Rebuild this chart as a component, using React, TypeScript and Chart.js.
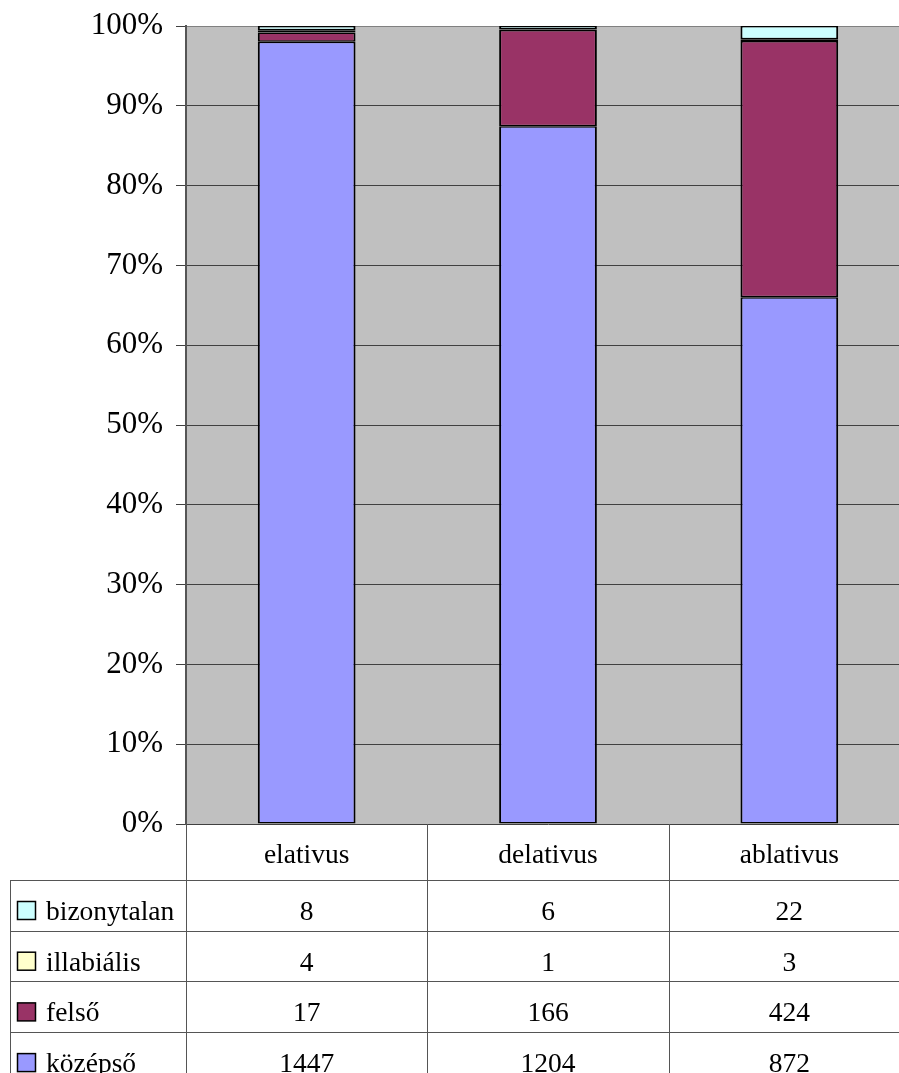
import React, { useEffect, useRef } from "react";
import { Chart, registerables } from "chart.js";

Chart.register(...registerables);

const categories = ["elativus", "delativus", "ablativus"];
const seriesNames = ["középső", "felső", "illabiális", "bizonytalan"];
const kozepso = [1447, 1204, 872];
const felso = [17, 166, 424];
const illabialis = [4, 1, 3];
const bizonytalan = [8, 6, 22];
const seriesColors = ["#9999FF", "#993366", "#FFFFCC", "#CCFFFF"];
const yTicks = [0, 10, 20, 30, 40, 50, 60, 70, 80, 90, 100];

const allSeries = [kozepso, felso, illabialis, bizonytalan];
const totals = categories.map((_, i) => allSeries.reduce((s, a) => s + a[i], 0));
const pct = (arr: number[]) => arr.map((v, i) => (v / totals[i]) * 100);

const SERIF = "'Liberation Serif', 'Times New Roman', serif";

const tablePlugin = {
  id: "dataTable",
  beforeDraw(chart: any) {
    const { ctx, chartArea } = chart;
    ctx.save();
    ctx.fillStyle = "#C0C0C0";
    ctx.fillRect(chartArea.left, chartArea.top, chartArea.right - chartArea.left, chartArea.bottom - chartArea.top);
    ctx.restore();
  },
  afterDraw(chart: any) {
    const { ctx, chartArea } = chart;
    const xs = chart.scales.x;
    const n = categories.length;
    const colW = (chartArea.right - chartArea.left) / n;
    const top = chartArea.bottom;
    const headerBottom = top + 56;
    const rowH = 50.7;
    const legendLeft = 10;
    const rows = [3, 2, 1, 0]; // display order: bizonytalan, illabiális, felső, középső
    ctx.save();
    ctx.strokeStyle = "#555555";
    ctx.lineWidth = 1;
    const vline = (x: number, y1: number, y2: number) => {
      ctx.beginPath();
      ctx.moveTo(Math.round(x) + 0.5, y1);
      ctx.lineTo(Math.round(x) + 0.5, y2);
      ctx.stroke();
    };
    const hline = (y: number, x1: number, x2: number) => {
      ctx.beginPath();
      ctx.moveTo(x1, Math.round(y) + 0.5);
      ctx.lineTo(x2, Math.round(y) + 0.5);
      ctx.stroke();
    };
    const bottomY = chart.height + 20;
    for (let i = 0; i < n; i++) {
      const cx = xs.getPixelForValue(i);
      vline(cx - colW / 2, top, bottomY);
    }
    vline(legendLeft, headerBottom, bottomY);
    hline(headerBottom, legendLeft, chart.width);
    for (let r = 1; r <= rows.length; r++) {
      hline(headerBottom + r * rowH, legendLeft, chart.width);
    }
    ctx.fillStyle = "#000000";
    ctx.font = `27.5px ${SERIF}`;
    ctx.textAlign = "center";
    ctx.textBaseline = "alphabetic";
    for (let i = 0; i < n; i++) {
      const cx = xs.getPixelForValue(i);
      ctx.fillText(categories[i], cx, top + 39);
    }
    rows.forEach((si, r) => {
      const rowTop = headerBottom + r * rowH;
      ctx.fillStyle = seriesColors[si];
      ctx.fillRect(17.5, rowTop + 21.5, 18, 18);
      ctx.strokeStyle = "#000000";
      ctx.lineWidth = 1.5;
      ctx.strokeRect(17.5, rowTop + 21.5, 18, 18);
      ctx.fillStyle = "#000000";
      ctx.textAlign = "left";
      ctx.fillText(seriesNames[si], 46, rowTop + 40);
      ctx.textAlign = "center";
      for (let i = 0; i < n; i++) {
        const cx = xs.getPixelForValue(i);
        ctx.fillText(String(allSeries[si][i]), cx, rowTop + 40);
      }
    });
    ctx.restore();
  },
};

export default function App() {
  const ref = useRef<HTMLCanvasElement | null>(null);
  useEffect(() => {
    if (!ref.current) return;
    const chart = new Chart(ref.current, {
      type: "bar",
      data: {
        labels: categories,
        datasets: allSeries.map((arr, si) => ({
          label: seriesNames[si],
          data: pct(arr),
          backgroundColor: seriesColors[si],
          borderColor: "#000000",
          borderWidth: { top: 1.5, bottom: 1.5, left: 2, right: 2 },
          borderSkipped: false,
          categoryPercentage: 1,
          barPercentage: 0.405,
        })),
      },
      options: {
        animation: false,
        responsive: false,
        devicePixelRatio: 1,
        layout: { padding: { top: 26, bottom: 249, left: 0, right: 0 } },
        plugins: { legend: { display: false }, tooltip: { enabled: false } },
        scales: {
          x: { stacked: true, display: false },
          y: {
            stacked: true,
            min: 0,
            max: 100,
            afterFit: (s: any) => {
              s.width = 186;
              s.paddingTop = 0;
              s.paddingBottom = 0;
            },
            afterBuildTicks: (s: any) => {
              s.ticks = yTicks.map((v) => ({ value: v }));
            },
            ticks: {
              stepSize: 10,
              padding: 13,
              color: "#000000",
              font: { family: SERIF, size: 31 },
              callback: (v: any) => `${v}%`,
            },
            grid: {
              color: (c: any) => (c.tick && c.tick.value === 100 ? "#808080" : "#404040"),
              tickColor: "#404040",
              tickLength: 10,
              lineWidth: 1,
            },
            border: { display: true, color: "#555555", width: 2 },
          },
        },
      },
      plugins: [tablePlugin],
    });
    return () => chart.destroy();
  }, []);
  return (
    <div style={{ position: "absolute", left: 0, top: 0, width: 899, height: 1073, overflow: "hidden", background: "#ffffff" }}>
      <canvas ref={ref} width={910} height={1073} style={{ width: 910, height: 1073, display: "block" }} />
    </div>
  );
}
